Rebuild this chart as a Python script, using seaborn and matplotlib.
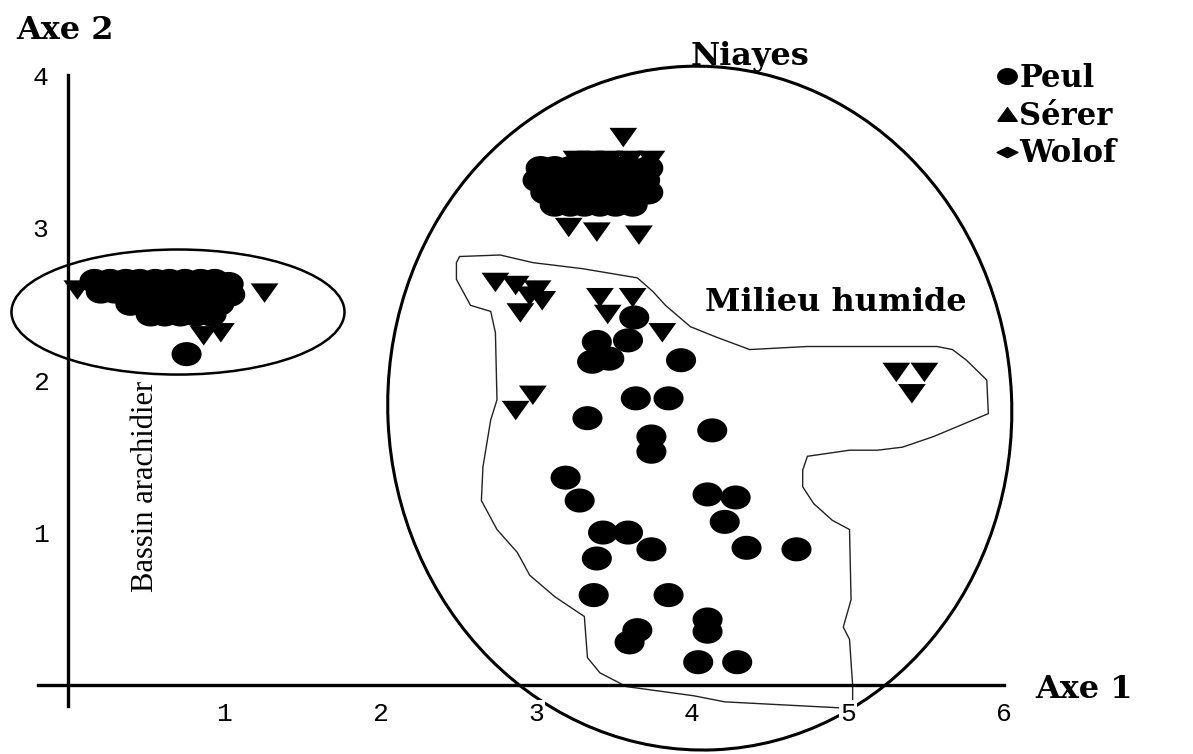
import numpy as np
import pandas as pd
import seaborn as sns
import matplotlib.pyplot as plt
from matplotlib.patches import Ellipse, Polygon
from matplotlib.lines import Line2D

# coordinates on the two factorial axes, one pair of lists per group
peul_x = [0.17, 0.27, 0.37, 0.46, 0.56, 0.65, 0.75, 0.85, 0.94, 1.03,
          0.40, 0.49, 0.59, 0.69, 0.78, 0.88, 0.97, 0.76,
          3.03, 3.12, 3.22, 3.31, 3.41, 3.51, 3.60, 3.72,
          3.06, 3.15, 3.25, 3.35, 3.44, 3.54, 3.63, 3.72,
          3.39, 3.36, 3.47, 3.63, 3.59, 3.93, 3.33, 3.64, 3.85, 3.74, 3.74, 4.13, 3.19, 3.28,
          3.43, 3.59, 3.74, 3.39, 3.37, 3.85, 4.10, 4.28, 4.21, 4.35, 4.67, 3.65, 3.60, 4.10,
          4.10, 4.04, 4.29]
peul_y = [2.65, 2.65, 2.65, 2.65, 2.65, 2.65, 2.65, 2.65, 2.65, 2.63,
          2.50, 2.50, 2.50, 2.50, 2.50, 2.50, 2.50, 2.17,
          3.39, 3.39, 3.39, 3.39, 3.39, 3.39, 3.39, 3.39,
          3.23, 3.23, 3.23, 3.23, 3.23, 3.23, 3.23, 3.23,
          2.25, 2.12, 2.14, 2.41, 2.26, 2.13, 1.75, 1.88, 1.88, 1.63, 1.53, 1.67, 1.36, 1.21,
          1.00, 1.00, 0.89, 0.83, 0.59, 0.59, 1.25, 1.23, 1.07, 0.90, 0.89, 0.36, 0.28, 0.43,
          0.35, 0.15, 0.15]

serer_x = [0.06, 1.26, 0.87, 0.98,
           3.26, 3.35, 3.47, 3.60, 3.74, 3.56, 3.21, 3.39, 3.66,
           2.74, 2.87, 3.01, 3.04, 2.90, 2.96, 3.41, 3.62, 3.46, 3.81, 2.87, 2.98,
           5.31, 5.49, 5.41]
serer_y = [2.59, 2.57, 2.29, 2.31,
           3.44, 3.44, 3.44, 3.44, 3.44, 3.59, 3.00, 2.97, 2.95,
           2.64, 2.62, 2.59, 2.52, 2.44, 2.55, 2.54, 2.54, 2.43, 2.31, 1.80, 1.90,
           2.05, 2.05, 1.91]

wolof_x = [0.21, 0.30, 0.40, 0.49, 0.59, 0.69, 0.78, 0.88, 0.97, 1.04,
           0.53, 0.62, 0.72, 0.82, 0.92,
           3.01, 3.11, 3.21, 3.30, 3.40, 3.49, 3.59, 3.70,
           3.12, 3.22, 3.31, 3.41, 3.51, 3.62]
wolof_y = [2.58, 2.58, 2.58, 2.58, 2.58, 2.58, 2.58, 2.58, 2.58, 2.56,
           2.43, 2.43, 2.43, 2.43, 2.43,
           3.31, 3.31, 3.31, 3.31, 3.31, 3.31, 3.31, 3.31,
           3.15, 3.15, 3.15, 3.15, 3.15, 3.15]

groups = ['Peul', 'Sérer', 'Wolof']
xticks = [1, 2, 3, 4, 5, 6]
yticks = [1, 2, 3, 4]

# outline of the "Milieu humide" zone
humide_x = [2.49, 2.51, 2.77, 2.98, 3.30, 3.65, 3.75, 3.83, 3.99, 4.16, 4.37, 4.74, 5.57, 5.67,
            5.76, 5.89, 5.90, 5.76, 5.55, 5.35, 5.19, 5.01, 4.74, 4.71, 4.71, 4.78, 4.90, 5.01,
            5.02, 4.97, 5.01, 5.03, 5.03, 4.96, 4.21, 4.01, 3.58, 3.41, 3.33, 3.31, 3.28, 3.12,
            2.96, 2.88, 2.75, 2.65, 2.66, 2.71, 2.75, 2.74, 2.71, 2.58, 2.49]
humide_y = [2.77, 2.81, 2.82, 2.77, 2.73, 2.67, 2.58, 2.49, 2.35, 2.28, 2.20, 2.22, 2.22, 2.20,
            2.13, 2.00, 1.78, 1.72, 1.63, 1.56, 1.54, 1.54, 1.50, 1.41, 1.30, 1.19, 1.08, 1.02,
            0.56, 0.38, 0.30, 0.00, -0.13, -0.15, -0.11, -0.07, -0.01, 0.08, 0.18, 0.45, 0.47, 0.58,
            0.72, 0.87, 1.02, 1.21, 1.43, 1.74, 1.87, 2.31, 2.45, 2.49, 2.66]

df = pd.concat([
    pd.DataFrame({'axe1': peul_x, 'axe2': peul_y, 'ethnie': 'Peul'}),
    pd.DataFrame({'axe1': serer_x, 'axe2': serer_y, 'ethnie': 'Sérer'}),
    pd.DataFrame({'axe1': wolof_x, 'axe2': wolof_y, 'ethnie': 'Wolof'}),
], ignore_index=True)

# the scanned figure is stretched sideways, so are its symbols
t = np.linspace(0, 2 * np.pi, 41)
m_round = np.column_stack([np.cos(t), 0.8 * np.sin(t)])
m_down = np.array([[-1, 0.7], [1, 0.7], [0, -0.7], [-1, 0.7]])
m_up = np.array([[-1, -0.7], [1, -0.7], [0, 0.7], [-1, -0.7]])
m_diam = np.array([[0, 0.5], [1, 0], [0, -0.5], [-1, 0], [0, 0.5]])
shapes = {'Peul': (m_round, 470), 'Sérer': (m_down, 400), 'Wolof': (m_round, 470)}

sns.set_style('white')
plt.rcParams['font.family'] = ['DejaVu Serif']
plt.rcParams['text.color'] = 'black'

fig = plt.figure(figsize=(11.93, 7.54), dpi=100)
ax = fig.add_axes([0, 0, 1, 1])

ax.add_patch(Ellipse((0.705, 2.446), 2.135, 0.82, fill=False, ec='black', lw=1.8, zorder=1))
ax.add_patch(Ellipse((4.05, 1.816), 4.0, 4.485, angle=2.5, fill=False, ec='black', lw=2.2,
                     zorder=1))
ax.add_patch(Polygon(np.column_stack([humide_x, humide_y]), closed=True, fill=False,
                     ec='#222222', lw=1.0, zorder=1))

for g in groups:
    mk, s = shapes[g]
    sub = df[df['ethnie'] == g]
    sns.scatterplot(data=sub, x='axe1', y='axe2', marker=mk, s=s, color='black',
                    edgecolor='none', linewidth=0, legend=False, ax=ax, zorder=2)

ax.set_xlim(-0.436, 7.212)
ax.set_ylim(-0.452, 4.492)
ax.set_xlabel('')
ax.set_ylabel('')

for side in ['top', 'right']:
    ax.spines[side].set_visible(False)
ax.spines['left'].set_position(('data', 0))
ax.spines['bottom'].set_position(('data', 0))
ax.spines['left'].set_bounds(-0.14, 4.0)
ax.spines['bottom'].set_bounds(-0.19, 6.0)
for side in ['left', 'bottom']:
    ax.spines[side].set_linewidth(2.4)
    ax.spines[side].set_color('black')
    ax.spines[side].set_zorder(3)

ax.set_xticks(xticks)
ax.set_yticks(yticks)
ax.tick_params(axis='x', direction='out', length=7, width=2.4, pad=5, colors='black')
ax.tick_params(axis='y', direction='out', length=8, width=1.6, pad=6, colors='black')
ax.xaxis.set_zorder(4)
ax.yaxis.set_zorder(4)
for lbl in ax.get_xticklabels():
    lbl.set_fontfamily('Liberation Mono')
    lbl.set_fontsize(19)
    lbl.set_bbox(dict(facecolor='white', edgecolor='none', pad=1))
for lbl in ax.get_yticklabels():
    lbl.set_fontfamily('Liberation Mono')
    lbl.set_fontsize(19)

bold = dict(fontweight='bold', fontsize=23, color='black')
ax.text(-0.33, 4.29, 'Axe 2', ha='left', va='center', **bold)
ax.text(6.20, -0.03, 'Axe 1', ha='left', va='center', **bold)
ax.text(4.37, 4.12, 'Niayes', ha='center', va='center', **bold)
ax.text(4.92, 2.51, 'Milieu humide', ha='center', va='center', **bold)
ax.text(0.494, 1.30, 'Bassin arachidier', rotation=90, ha='center', va='center',
        family='Liberation Serif', fontsize=22, color='black')

handles = [Line2D([], [], ls='', marker=m_round, color='black', markersize=14),
           Line2D([], [], ls='', marker=m_up, color='black', markersize=14),
           Line2D([], [], ls='', marker=m_diam, color='black', markersize=15)]
ax.legend(handles, groups, loc='upper left', bbox_to_anchor=(998 / 1193, 1 - 63 / 754),
          bbox_transform=fig.transFigure, frameon=False, labelcolor='black',
          prop={'family': 'DejaVu Serif', 'weight': 'bold', 'size': 22},
          handlelength=0.6, handletextpad=0.1, labelspacing=0.22,
          borderpad=0, borderaxespad=0)

fig.savefig('out.png', dpi=100, facecolor='white')
